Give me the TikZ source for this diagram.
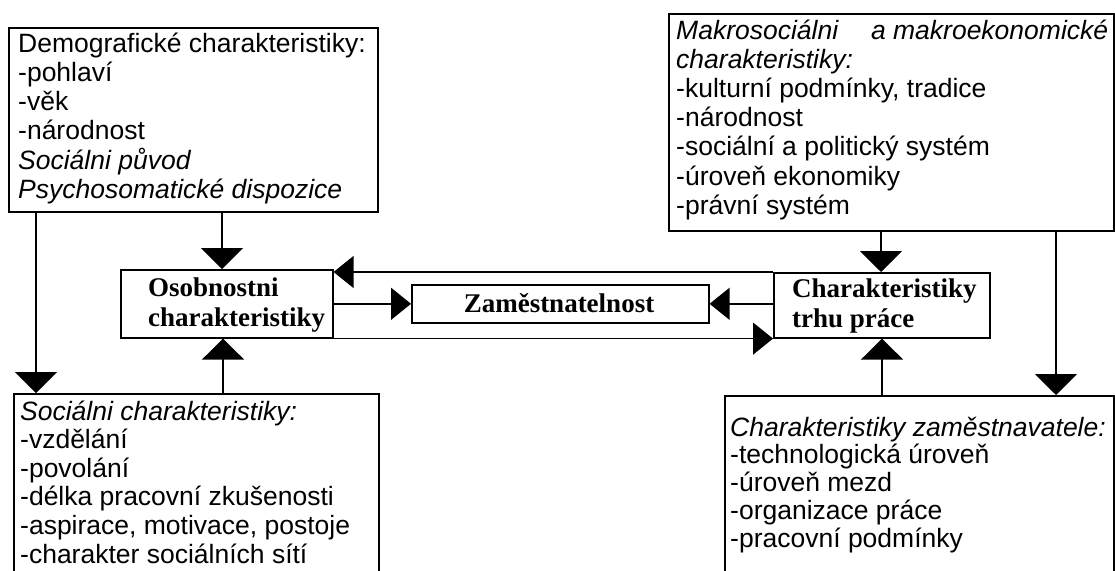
\documentclass[tikz,border=0pt]{standalone}
\usepackage{fontspec}
\setmainfont{Liberation Sans}
\newfontfamily\tnr{Liberation Serif}
\usetikzlibrary{arrows.meta,calc}
\begin{document}
\begin{tikzpicture}[x=1pt,y=-1pt,
  box/.style={draw, line width=1.6pt, rectangle, inner sep=0pt, anchor=north west},
  txt/.style={inner sep=0pt, anchor=base west, font=\fontsize{26.5}{29.2}\selectfont},
  mid/.style={inner sep=0pt, anchor=base west, font=\tnr\bfseries\fontsize{27}{30}\selectfont},
  conn/.style={line width=1.4pt},
  vhead/.style={conn, -{Triangle[width=42pt,length=21pt]}},
  hhead/.style={conn, -{Triangle[width=32pt,length=20pt]}}]
\useasboundingbox (0,0) rectangle (1115,570);
\clip (0,0) rectangle (1115,570);
\fill[white] (0,0) rectangle (1115,570);
% boxes
\node[box, minimum width=369pt, minimum height=184pt] (dem) at (8,27) {};
\node[box, minimum width=445pt, minimum height=217pt] (mak) at (668,13) {};
\node[box, minimum width=365pt, minimum height=220pt] (soc) at (13,393) {};
\node[box, minimum width=389pt, minimum height=220pt] (cz) at (724,395) {};
\node[box, minimum width=212pt, minimum height=68pt] (os) at (120,269) {};
\node[box, minimum width=297pt, minimum height=38pt] (zam) at (411,284) {};
\node[box, minimum width=216pt, minimum height=65pt] (ct) at (773,272) {};
% texts
\node[txt] (demt) at (18,52) {\begin{tabular}[t]{@{}l@{}}Demografické charakteristiky:\\-pohlaví\\-věk\\-národnost\\\textit{Sociálni původ}\\\textit{Psychosomatické dispozice}\end{tabular}};
\node[txt] (makt) at (676,39) {\begin{tabular}[t]{@{}l@{}}\hbox to 432pt{\itshape Makrosociálni\hfill a makroekonomické}\\\textit{charakteristiky:}\\-kulturní podmínky, tradice\\-národnost\\-sociální a politický systém\\-úroveň ekonomiky\\-právní systém\end{tabular}};
\node[txt, font=\fontsize{26.5}{28.6}\selectfont] (soct) at (20,420) {\begin{tabular}[t]{@{}l@{}}\textit{Sociálni charakteristiky:}\\-vzdělání\\-povolání\\-délka pracovní zkušenosti\\-aspirace, motivace, postoje\\-charakter sociálních sítí\end{tabular}};
\node[txt, font=\fontsize{26.5}{27.6}\selectfont] (czt) at (730,436) {\begin{tabular}[t]{@{}l@{}}\textit{Charakteristiky zaměstnavatele:}\\-technologická úroveň\\-úroveň mezd\\-organizace práce\\-pracovní podmínky\end{tabular}};
\node[mid] (ost) at (148,296) {\begin{tabular}[t]{@{}l@{}}Osobnostni\\charakteristiky\end{tabular}};
\node[mid] (ctt) at (792,297) {\begin{tabular}[t]{@{}l@{}}Charakteristiky\\trhu práce\end{tabular}};
\node[mid, anchor=base] (zamt) at (559,312) {Zaměstnatelnost};
% connectors
\coordinate (d1) at ($(dem.south west)+(28,0)$);
\draw[vhead] (d1) -- (d1 |- soc.north);
\coordinate (d2) at ($(dem.south west)+(214,0)$);
\draw[vhead] (d2) -- (d2 |- os.north);
\coordinate (s1) at ($(soc.north west)+(210,0)$);
\draw[vhead] (s1) -- (s1 |- os.south);
\coordinate (m1) at ($(mak.south west)+(213,0)$);
\draw[vhead] (m1) -- (m1 |- ct.north);
\coordinate (m2) at ($(mak.south west)+(388,0)$);
\draw[vhead] (m2) -- (m2 |- cz.north);
\coordinate (c1) at ($(cz.north west)+(158,0)$);
\draw[vhead] (c1) -- (c1 |- ct.south);
\draw[hhead] (os.east |- zam.west) -- (zam.west);
\draw[hhead] (ct.west |- zam.east) -- (zam.east);
\draw[hhead] (ct.north west) -- (ct.north west -| os.east);
\draw[hhead] (os.south east) -- (os.south east -| ct.west);
\end{tikzpicture}
\end{document}
